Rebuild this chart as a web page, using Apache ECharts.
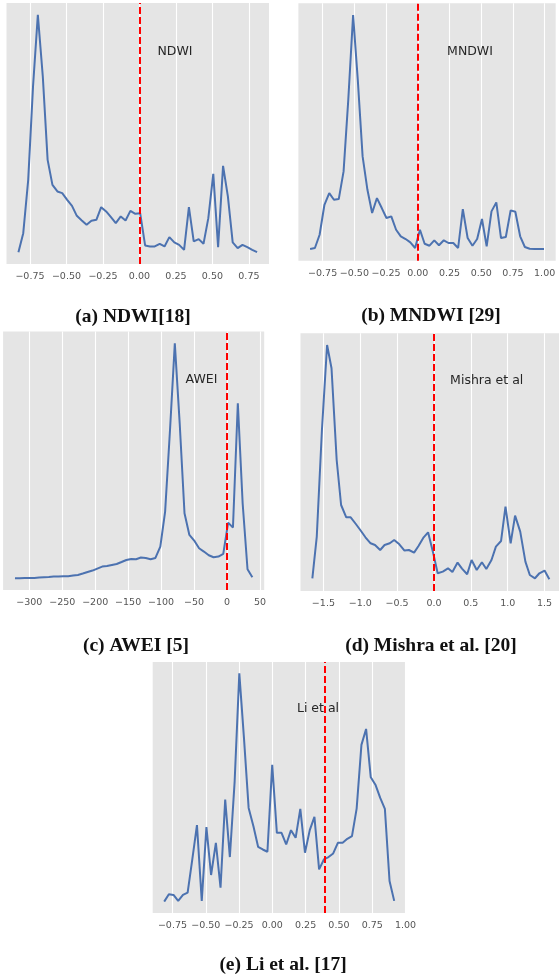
<!DOCTYPE html>
<html>
<head>
<meta charset="utf-8">
<script src="https://cdn.jsdelivr.net/npm/echarts@6/dist/echarts.min.js"></script>
<style>
html,body{margin:0;padding:0;background:#fff;}
#chart{width:559px;height:979px;}
</style>
</head>
<body>
<div id="chart"></div>
<script>
// ---- Data (y is relative density, arbitrary units) ----
const ndwiX = [-0.829,-0.796,-0.762,-0.729,-0.696,-0.662,-0.629,-0.596,-0.562,-0.529,-0.495,-0.462,-0.429,-0.395,-0.362,-0.329,-0.295,-0.262,-0.228,-0.195,-0.162,-0.128,-0.095,-0.062,-0.028,0.005,0.039,0.072,0.105,0.139,0.172,0.205,0.239,0.272,0.306,0.339,0.372,0.406,0.439,0.472,0.506,0.539,0.573,0.606,0.639,0.673,0.706,0.739,0.773,0.806];
const ndwiY = [0,19,72.3,165.7,237.3,175.7,92.3,67.3,60.7,59,52.3,46.3,36.3,31.7,27.3,31.3,32.3,45,40.7,35,29,35.7,31.7,41.3,38.3,39,6.7,5.7,5.7,8.3,5.7,15,9.7,7.3,2.3,45,10.7,13,8.3,34,78.3,5,86.3,55.7,9.7,4,7.3,5,2.3,0];

const mndwiX = [-0.849,-0.811,-0.774,-0.736,-0.698,-0.661,-0.623,-0.585,-0.548,-0.510,-0.473,-0.435,-0.397,-0.360,-0.322,-0.284,-0.247,-0.209,-0.171,-0.134,-0.096,-0.059,-0.021,0.017,0.054,0.092,0.130,0.167,0.205,0.242,0.280,0.318,0.355,0.393,0.431,0.468,0.506,0.543,0.581,0.619,0.656,0.694,0.732,0.769,0.807,0.844,0.882,0.920,0.957,0.995];
const mndwiY = [0,1,14.3,44.3,56,49.3,50,77.7,149.3,234.3,169.3,92.7,59.3,36,51,41,31,32.7,19.3,12.7,10,6.7,1,19.3,5.3,3.3,8.7,3.7,8.7,6,6,1,40,11,3.3,10,30,2.7,37.7,46.7,11,12,38.7,37.3,12.7,2,0.3,0,0,0];

const aweiX = [-321.7,-314.4,-307.0,-299.7,-292.3,-285.0,-277.6,-270.3,-262.9,-255.6,-248.2,-240.9,-233.5,-226.2,-218.8,-211.5,-204.1,-196.8,-189.4,-182.1,-174.7,-167.4,-160.0,-152.7,-145.3,-138.0,-130.6,-123.3,-115.9,-108.6,-101.2,-93.9,-86.5,-79.2,-71.8,-64.5,-57.1,-49.8,-42.4,-35.1,-27.7,-20.4,-13.0,-5.7,1.7,9.0,16.4,23.7,31.1,38.4];
const aweiY = [0,0,0.3,0.3,0.3,0.7,1,1.3,1.7,1.7,2,2,2.7,3.3,4.7,6.3,7.7,9.7,11.7,12.3,13.3,14.3,16.3,18.3,19.3,19,20.7,20.3,19,20.3,31.7,66.7,148.3,235,155,65,43.3,37.7,30,26.7,23,21,21.7,24.3,55.7,50.7,175,75,9,1];

const mishraX = [-1.65,-1.59,-1.52,-1.45,-1.39,-1.32,-1.26,-1.19,-1.13,-1.06,-0.99,-0.93,-0.86,-0.80,-0.73,-0.67,-0.60,-0.54,-0.47,-0.40,-0.34,-0.27,-0.21,-0.14,-0.08,-0.01,0.05,0.12,0.19,0.25,0.32,0.38,0.45,0.51,0.58,0.65,0.71,0.78,0.84,0.91,0.97,1.04,1.10,1.17,1.24,1.30,1.37,1.43,1.50,1.565];
const mishraY = [1,42.7,149.3,234.3,211,119.3,74.3,62,62,55.3,48.3,42,36,34.3,29.3,34.3,36,39.3,35,28.7,29.3,26.7,33.3,42,47,26,6,7.7,11,7.3,16.7,10.7,5,19.3,9.3,17,10.3,19.3,32.7,38.3,72.7,36,63.7,47.7,17.7,4.3,1,6,8.7,0];

const liX = [-0.812,-0.777,-0.742,-0.707,-0.671,-0.636,-0.601,-0.566,-0.530,-0.495,-0.460,-0.424,-0.389,-0.354,-0.319,-0.283,-0.248,-0.213,-0.178,-0.142,-0.107,-0.072,-0.037,-0.001,0.034,0.069,0.104,0.140,0.175,0.210,0.245,0.281,0.316,0.351,0.387,0.422,0.457,0.492,0.528,0.563,0.598,0.633,0.669,0.704,0.739,0.774,0.810,0.845,0.880,0.915];
const liY = [0,7.3,6.7,0.7,6.7,9,42.3,76.7,0.7,74.7,26.7,59,14,102.3,44.7,120.7,229,164,94,75.7,55,52.3,50,137.3,69,69,57.3,71.7,64,93,49,71.7,85,32.3,42.3,44.7,48.3,59,59,63,65.7,93.3,157.3,173.3,124.7,117.3,104,93,20.7,0.7];

// thresholds (red dashed lines)
const thresholds = [0, 0, 0, 0, 0.39];
// tick labels
const ticksNdwi = [-0.75,-0.5,-0.25,0,0.25,0.5,0.75];
const ticksMndwi = [-0.75,-0.5,-0.25,0,0.25,0.5,0.75,1.0];
const ticksAwei = [-300,-250,-200,-150,-100,-50,0,50];
const ticksMishra = [-1.5,-1.0,-0.5,0,0.5,1.0,1.5];
const ticksLi = [-0.75,-0.5,-0.25,0,0.25,0.5,0.75,1.0];
const tickDecimals = [2, 2, 0, 1, 2];
const panelNames = ['NDWI', 'MNDWI', 'AWEI', 'Mishra et al', 'Li et al'];
const captions = ['(a) NDWI[18]', '(b) MNDWI [29]', '(c) AWEI [5]', '(d) Mishra et al. [20]', '(e) Li et al. [17]'];

// ---- Layout ----
const xs = [ndwiX, mndwiX, aweiX, mishraX, liX];
const ys = [ndwiY, mndwiY, aweiY, mishraY, liY];
const ticks = [ticksNdwi, ticksMndwi, ticksAwei, ticksMishra, ticksLi];
const grids = [
  {left: 6.5, top: 3, width: 262.5, height: 261},
  {left: 298.4, top: 3.3, width: 257.3, height: 257.4},
  {left: 3.1, top: 331.6, width: 261.1, height: 258.4},
  {left: 300.5, top: 333.3, width: 260.7, height: 257.7},
  {left: 152.7, top: 662, width: 253, height: 251}
];
const namePos = [[175, 52], [470, 52], [201.5, 380], [486.7, 380.7], [318, 709]];
const capPos = [[133, 317], [431, 316], [136, 646], [431, 646], [283, 965]];

function pad(arr) {
  const mn = Math.min(...arr), mx = Math.max(...arr);
  const m = (mx - mn) * 0.05;
  return [mn - m, mx + m];
}

const option = {
  animation: false,
  backgroundColor: '#ffffff',
  grid: [], xAxis: [], yAxis: [], series: [], graphic: []
};

for (let i = 0; i < 5; i++) {
  const g = grids[i];
  option.grid.push({
    left: g.left, top: g.top, width: g.width, height: g.height,
    show: true, backgroundColor: '#E5E5E5', borderWidth: 0,
    containLabel: false, outerBoundsMode: 'none'
  });
  const xr = pad(xs[i]);
  const yr = pad(ys[i]);
  const dec = tickDecimals[i];
  option.xAxis.push({
    type: 'value', gridIndex: i, min: xr[0], max: xr[1],
    axisLine: {show: false},
    axisTick: {show: false, customValues: ticks[i]},
    splitLine: {show: true, lineStyle: {color: '#ffffff', width: 1.1}},
    axisLabel: {
      customValues: ticks[i],
      color: '#555555', fontFamily: 'DejaVu Sans', fontSize: 9.5, margin: 8,
      formatter: v => Number(v).toFixed(dec).replace('-', '\u2212')
    }
  });
  option.yAxis.push({
    type: 'value', gridIndex: i, min: yr[0], max: yr[1],
    axisLine: {show: false}, axisTick: {show: false},
    axisLabel: {show: false}, splitLine: {show: false}
  });
  option.series.push({
    type: 'line', xAxisIndex: i, yAxisIndex: i,
    data: xs[i].map((x, k) => [x, ys[i][k]]),
    showSymbol: false, symbol: 'none',
    lineStyle: {color: '#4C72B0', width: 2},
    markLine: {
      silent: true, symbol: ['none', 'none'],
      label: {show: false},
      lineStyle: {color: '#FF0000', type: [7, 3], width: 2},
      data: [{xAxis: thresholds[i]}]
    }
  });
  option.graphic.push({
    type: 'text', z: 100,
    x: namePos[i][0], y: namePos[i][1],
    style: {text: panelNames[i], fill: '#262626', font: '12.5px "DejaVu Sans"', align: 'center', verticalAlign: 'middle'}
  });
  option.graphic.push({
    type: 'text', z: 100,
    x: capPos[i][0], y: capPos[i][1],
    style: {text: captions[i], fill: '#111111', font: 'bold 19.5px "Liberation Serif"', align: 'center', verticalAlign: 'middle'}
  });
}

const chart = echarts.init(document.getElementById('chart'), null, {renderer: 'canvas', width: 559, height: 979});
chart.setOption(option);
</script>
</body>
</html>
